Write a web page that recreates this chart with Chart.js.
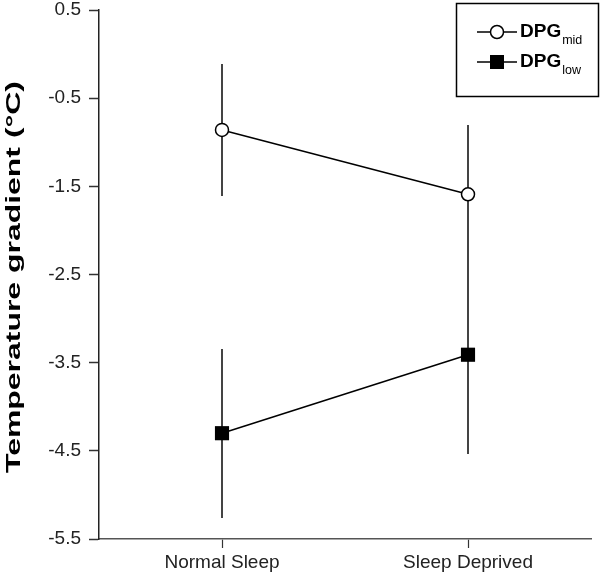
<!DOCTYPE html>
<html>
<head>
<meta charset="utf-8">
<script src="https://cdn.jsdelivr.net/npm/chart.js@4.4.1/dist/chart.umd.min.js"></script>
<style>
  html, body { margin: 0; padding: 0; background: #fff; }
  #wrap { width: 602px; height: 583px; position: relative; }
</style>
</head>
<body>
<div id="wrap"><canvas id="c" width="602" height="583"></canvas></div>
<script>
// ---- data ----
const categories = ['Normal Sleep', 'Sleep Deprived'];
const seriesBase = ['DPG', 'DPG'];
const seriesSub = ['mid', 'low'];
const midValues = [-0.86, -1.59];
const midErrors = [0.75, 0.78];
const lowValues = [-4.30, -3.41];
const lowErrors = [0.96, 1.13];
const yTicks = [-5.5, -4.5, -3.5, -2.5, -1.5, -0.5, 0.5];
const yTitle = 'Temperature gradient (°C)';

const FONT = "'Liberation Sans', Arial, sans-serif";

const errorBars = {
  id: 'errorBars',
  beforeDatasetsDraw(chart) {
    const ctx = chart.ctx;
    const y = chart.scales.y;
    ctx.save();
    ctx.strokeStyle = '#444';
    ctx.lineWidth = 2;
    ctx.lineCap = 'butt';
    chart.data.datasets.forEach((ds, i) => {
      const meta = chart.getDatasetMeta(i);
      meta.data.forEach((pt, j) => {
        const v = ds.data[j], e = ds.errors[j];
        const px = Math.round(pt.x);
        ctx.beginPath();
        ctx.moveTo(px, Math.round(y.getPixelForValue(v + e)));
        ctx.lineTo(px, Math.round(y.getPixelForValue(v - e)));
        ctx.stroke();
      });
    });
    ctx.restore();
  }
};

const yTitlePlugin = {
  id: 'yTitlePlugin',
  afterDraw(chart) {
    const ctx = chart.ctx;
    ctx.save();
    ctx.font = 'bold 21px ' + FONT;
    const w = ctx.measureText(yTitle).width;
    const target = 392;
    ctx.translate(14, 277);
    ctx.rotate(-Math.PI / 2);
    ctx.scale(target / w, 1);
    ctx.fillStyle = '#000';
    ctx.textAlign = 'center';
    ctx.textBaseline = 'middle';
    ctx.fillText(yTitle, 0, 0);
    ctx.restore();
  }
};

const legendPlugin = {
  id: 'customLegend',
  afterDraw(chart) {
    const ctx = chart.ctx;
    ctx.save();
    ctx.strokeStyle = '#000';
    ctx.lineWidth = 1.5;
    ctx.strokeRect(456.5, 3.5, 142, 93);
    const rows = [32, 62];
    chart.data.datasets.forEach((ds, i) => {
      const ry = rows[i];
      ctx.strokeStyle = '#000';
      ctx.lineWidth = 1.5;
      ctx.beginPath();
      ctx.moveTo(477, ry);
      ctx.lineTo(517, ry);
      ctx.stroke();
      if (ds.pointStyle === 'circle') {
        ctx.beginPath();
        ctx.arc(497, ry, 6.5, 0, Math.PI * 2);
        ctx.fillStyle = '#fff';
        ctx.fill();
        ctx.stroke();
      } else {
        ctx.fillStyle = '#000';
        ctx.fillRect(490, ry - 7, 14, 14);
      }
      ctx.fillStyle = '#000';
      ctx.textBaseline = 'alphabetic';
      ctx.textAlign = 'left';
      ctx.font = 'bold 19px ' + FONT;
      ctx.fillText(seriesBase[i], 520, ry + 5);
      const bw = ctx.measureText(seriesBase[i]).width;
      ctx.font = '12.5px ' + FONT;
      ctx.fillText(seriesSub[i], 520 + bw + 1, ry + 12);
    });
    ctx.restore();
  }
};

new Chart(document.getElementById('c'), {
  type: 'line',
  data: {
    labels: categories,
    datasets: [
      {
        label: seriesBase[0] + seriesSub[0],
        data: midValues,
        errors: midErrors,
        borderColor: '#000',
        borderWidth: 1.5,
        pointStyle: 'circle',
        pointRadius: 6.5,
        pointBackgroundColor: '#fff',
        pointBorderColor: '#000',
        pointBorderWidth: 1.5,
        tension: 0
      },
      {
        label: seriesBase[1] + seriesSub[1],
        data: lowValues,
        errors: lowErrors,
        borderColor: '#000',
        borderWidth: 1.5,
        pointStyle: 'rect',
        pointRadius: 10,
        pointBackgroundColor: '#000',
        pointBorderColor: '#000',
        pointBorderWidth: 0,
        tension: 0
      }
    ]
  },
  options: {
    responsive: false,
    animation: false,
    events: [],
    layout: { padding: { top: 10, right: 11, left: 0, bottom: 0 } },
    plugins: {
      legend: { display: false },
      tooltip: { enabled: false },
      title: { display: false }
    },
    scales: {
      x: {
        type: 'category',
        offset: true,
        grid: {
          display: true,
          offset: false,
          drawOnChartArea: false,
          drawTicks: true,
          tickLength: 9,
          tickColor: '#333',
          tickWidth: 1.2
        },
        border: { display: true, color: '#555', width: 1.6 },
        ticks: {
          color: '#222',
          padding: 3,
          font: { family: FONT, size: 19 },
          maxRotation: 0,
          autoSkip: false
        },
        afterFit(scale) { scale.height = 44; scale.paddingLeft = 0; scale.paddingRight = 0; }
      },
      y: {
        type: 'linear',
        min: -5.5,
        max: 0.5,
        afterBuildTicks(scale) { scale.ticks = yTicks.map(v => ({ value: v })); },
        grid: {
          display: true,
          drawOnChartArea: false,
          drawTicks: true,
          tickLength: 10,
          tickColor: '#333',
          tickWidth: 1.5
        },
        border: { display: true, color: '#222', width: 1.5 },
        ticks: {
          color: '#222',
          padding: 8,
          font: { family: FONT, size: 19 },
          callback: (v) => Number(v).toFixed(1)
        },
        afterFit(scale) { scale.width = 99; scale.paddingTop = 0; scale.paddingBottom = 0; }
      }
    }
  },
  plugins: [errorBars, yTitlePlugin, legendPlugin]
});
</script>
</body>
</html>
